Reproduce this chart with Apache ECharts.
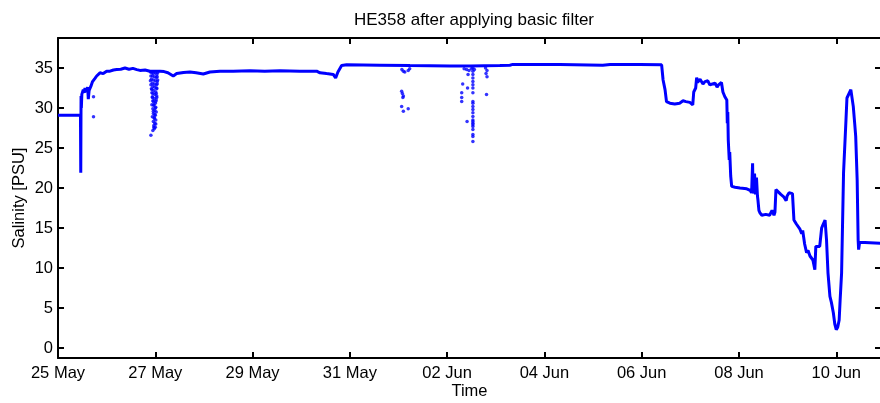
<!DOCTYPE html>
<html>
<head>
<meta charset="utf-8">
<script src="https://cdn.jsdelivr.net/npm/echarts@6/dist/echarts.min.js"></script>
<style>
html,body{margin:0;padding:0;background:#fff;}
#chart{width:880px;height:403px;}
</style>
</head>
<body>
<div id="chart"></div>
<script>
// Time in days since 25 May 00:00
const tickDays = [0, 2, 4, 6, 8, 10, 12, 14, 16];
const tickLabels = ['25 May', '27 May', '29 May', '31 May', '02 Jun', '04 Jun', '06 Jun', '08 Jun', '10 Jun'];
const yTicks = [0, 5, 10, 15, 20, 25, 30, 35];

const dayOffsets = [
  0, 0.462, 0.468, 0.474, 0.48, 0.49, 0.52, 0.54, 0.555, 0.57, 0.59, 0.61, 0.623, 0.64, 0.658, 0.675, 0.693,
  0.71, 0.726, 0.76, 0.795, 0.83, 0.863, 0.93,
  1.0, 1.069, 1.14, 1.207, 1.29, 1.377, 1.46, 1.54, 1.62, 1.685, 1.79, 1.89, 2.097, 2.18, 2.26, 2.37, 2.44,
  2.58, 2.713, 2.84, 2.987, 3.124, 3.33, 3.6, 3.947, 4.25, 4.563, 4.974, 5.318, 5.386, 5.52, 5.659, 5.708,
  5.755, 5.831, 5.934, 6.619, 7.235, 8.057, 8.469, 9.085, 9.106, 9.29, 9.35, 10.32, 11.2, 11.35, 11.96,
  12.41, 12.44, 12.48, 12.51, 12.58, 12.68, 12.78, 12.85, 12.91, 12.99, 13.05, 13.06, 13.07, 13.11, 13.13,
  13.15, 13.18, 13.2, 13.23, 13.26, 13.3, 13.36, 13.4, 13.44, 13.51, 13.55, 13.58, 13.61, 13.64, 13.67,
  13.71, 13.75, 13.76, 13.77, 13.78, 13.8, 13.81, 13.83, 13.85, 13.92, 14.02, 14.16, 14.23, 14.26, 14.28,
  14.29, 14.32, 14.34, 14.36, 14.38, 14.39, 14.41, 14.43, 14.47, 14.55, 14.63, 14.68, 14.72, 14.74, 14.76,
  14.8, 14.86, 14.92, 14.97, 14.99, 15.03, 15.07, 15.1, 15.13, 15.18, 15.25, 15.29, 15.31, 15.35, 15.39,
  15.42, 15.46, 15.52, 15.56, 15.58, 15.62, 15.66, 15.7, 15.72, 15.77, 15.8, 15.83, 15.87, 15.9, 15.94,
  15.97, 16.0, 16.03, 16.06, 16.08, 16.11, 16.15, 16.2, 16.22, 16.26, 16.3, 16.35, 16.38, 16.4, 16.43,
  16.45, 16.46, 16.48, 16.59, 16.92
];
const salinity = [
  29.1, 29.1, 21.9, 31.5, 30.0, 31.7, 32.3, 31.9, 32.5, 32.0, 31.8, 32.6, 31.1, 32.2, 32.4, 32.7, 32.9,
  33.3, 33.5, 33.7, 34.0, 34.2, 34.4, 34.3,
  34.6, 34.6, 34.75, 34.8, 34.85, 35.0, 34.85, 34.95, 34.8, 34.7, 34.75, 34.6, 34.6, 34.55, 34.4, 34.0, 34.3,
  34.45, 34.5, 34.4, 34.25, 34.5, 34.6, 34.6, 34.65, 34.6, 34.65, 34.6, 34.6, 34.4, 34.3, 34.2, 33.75,
  34.5, 35.3, 35.4, 35.35, 35.3, 35.25, 35.25, 35.3, 35.45, 35.35, 35.45, 35.45, 35.35, 35.45, 35.45,
  35.4, 33.5, 32.3, 30.8, 30.6, 30.5, 30.6, 30.9, 30.8, 30.7, 30.4, 30.2, 32.0, 32.5, 33.8,
  33.2, 33.3, 33.6, 33.4, 33.0, 33.3, 33.4, 32.9, 32.7, 33.1, 32.6, 32.9, 33.0, 33.2, 32.0,
  31.4, 31.0, 28.1, 29.5, 26.0, 23.5, 24.5, 21.5, 20.2, 20.1, 20.0, 19.9, 19.7, 19.4, 23.1,
  19.3, 21.8, 19.2, 21.3, 19.0, 18.5, 17.2, 16.9, 16.6, 16.7, 16.6, 17.2, 16.6, 17.0, 19.8,
  19.8, 19.2, 18.9, 18.4, 19.0, 19.4, 19.6, 19.3, 16.0, 15.5, 14.9, 14.3, 14.7, 13.0, 11.9,
  12.2, 11.5, 11.0, 9.8, 12.7, 12.8, 12.7, 15.0, 15.3, 16.0, 13.5, 9.4, 6.45, 5.7, 4.4,
  3.0, 2.3, 2.6, 3.5, 6.0, 9.4, 21.9, 28.5, 31.25, 31.5, 32.3, 30.2, 28.0, 26.45, 21.0,
  13.5, 12.3, 13.2, 13.2, 13.1
];

// Isolated points left after filtering
const outlierDays = [
  0.73, 0.73,
  1.93, 1.96, 2.0, 2.03, 1.94, 1.98, 2.02, 1.92, 1.96, 2.0, 2.04, 1.94, 1.98, 2.02, 1.95, 1.99,
  2.03, 1.93, 1.97, 2.01, 1.95, 1.99, 2.03, 1.94, 1.98, 2.02, 1.96, 2.0, 1.93, 1.97, 2.01, 1.95,
  1.99, 2.02, 1.96, 2.0, 1.94, 1.98, 2.01, 1.96, 1.99, 1.97, 2.0, 1.98, 1.95, 1.91,
  1.9, 2.05, 1.91, 2.04, 1.9, 2.05, 1.91, 2.04, 1.92, 2.03, 1.93, 2.02, 1.94, 2.03, 1.95, 2.01,
  1.97, 2.0, 1.96, 1.99, 1.98, 2.01, 1.97,
  7.07, 7.1, 7.13, 7.2, 7.23, 7.065, 7.08, 7.1, 7.09, 7.065, 7.1, 7.2,
  8.53, 8.53, 8.53, 8.53, 8.53, 8.53, 8.53, 8.53, 8.53, 8.53, 8.53, 8.53, 8.53, 8.53, 8.53,
  8.53, 8.53, 8.53, 8.53, 8.53, 8.53, 8.53, 8.53,
  8.43, 8.32, 8.42, 8.3, 8.3, 8.3, 8.41, 8.81, 8.79, 8.82, 8.8, 8.82, 8.35, 8.4, 8.45, 8.5, 8.56
];
const outlierVals = [
  31.4, 28.9,
  34.4, 34.3, 34.4, 34.2, 34.0, 33.9, 33.8, 33.6, 33.5, 33.4, 33.3, 33.1, 33.0, 32.9, 32.7, 32.6,
  32.4, 32.3, 32.2, 32.0, 31.8, 31.7, 31.5, 31.3, 31.2, 31.0, 30.8, 30.6, 30.4, 30.3, 30.1, 29.9,
  29.7, 29.5, 29.3, 29.1, 28.9, 28.7, 28.5, 28.3, 28.1, 27.8, 27.6, 27.4, 27.2, 26.6,
  34.5, 34.4, 34.0, 33.9, 33.4, 33.5, 32.9, 33.0, 32.4, 32.5, 31.9, 31.8, 31.4, 31.3, 30.9, 30.8,
  30.4, 30.0, 29.6, 29.2, 28.8, 28.0, 27.6,
  34.8, 34.6, 34.5, 34.7, 34.9, 32.1, 31.8, 31.5, 31.3, 30.2, 29.6, 29.9,
  35.0, 34.6, 34.2, 33.75, 33.3, 32.9, 32.5, 31.9, 30.8, 30.6, 30.2, 29.8, 29.4, 28.95, 28.5,
  28.3, 28.1, 27.9, 27.7, 27.3, 26.7, 26.45, 25.8,
  34.2, 33.0, 32.5, 31.9, 31.3, 30.8, 28.3, 31.7, 35.0, 34.7, 34.3, 33.9, 34.9, 34.8, 34.7, 34.9, 34.8
];

const lineData = dayOffsets.map((d, i) => [d, salinity[i]]);
const dotData = outlierDays.map((d, i) => [d, outlierVals[i]]);

const FONT = '"Liberation Sans", Arial, sans-serif';
const axisLine = { show: true, onZero: false, lineStyle: { color: '#000', width: 2 } };
const tick = { show: true, inside: true, length: 6, lineStyle: { color: '#000', width: 2 } };

const chart = echarts.init(document.getElementById('chart'), null, { renderer: 'canvas' });
chart.setOption({
  animation: false,
  backgroundColor: '#fff',
  title: {
    text: 'HE358 after applying basic filter',
    left: 469, top: 7, textAlign: 'center',
    textStyle: { fontFamily: FONT, fontSize: 17, fontWeight: 'normal', color: '#000' }
  },
  grid: { left: 58, right: -1, top: 38, height: 320, containLabel: false, outerBoundsMode: 'none' },
  xAxis: [
    {
      type: 'value', min: 0, max: 16.92, position: 'bottom',
      name: 'Time', nameLocation: 'middle', nameGap: 25, nameMoveOverlap: false,
      nameTextStyle: { fontFamily: FONT, fontSize: 16.5, color: '#000' },
      axisLine: axisLine,
      axisTick: Object.assign({}, tick, { customValues: tickDays }),
      axisLabel: {
        customValues: tickDays, margin: 7,
        fontFamily: FONT, fontSize: 16.5, color: '#000',
        formatter: v => tickLabels[tickDays.indexOf(v)]
      },
      splitLine: { show: false }
    },
    {
      type: 'value', min: 0, max: 16.92, position: 'top',
      axisLine: axisLine,
      axisTick: Object.assign({}, tick, { customValues: tickDays }),
      axisLabel: { show: false },
      splitLine: { show: false }
    }
  ],
  yAxis: [
    {
      type: 'value', min: -1.25, max: 38.75, position: 'left',
      name: 'Salinity [PSU]', nameLocation: 'middle', nameGap: 30, nameRotate: 90,
      nameMoveOverlap: false,
      nameTextStyle: { fontFamily: FONT, fontSize: 16.5, color: '#000' },
      axisLine: axisLine,
      axisTick: Object.assign({}, tick, { customValues: yTicks }),
      axisLabel: { customValues: yTicks, margin: 5, fontFamily: FONT, fontSize: 16.5, color: '#000' },
      splitLine: { show: false }
    },
    {
      type: 'value', min: -1.25, max: 38.75, position: 'right',
      axisLine: axisLine,
      axisTick: Object.assign({}, tick, { customValues: yTicks }),
      axisLabel: { show: false },
      splitLine: { show: false }
    }
  ],
  series: [
    {
      type: 'line', data: lineData, xAxisIndex: 0, yAxisIndex: 0,
      showSymbol: false, symbol: 'none',
      lineStyle: { color: '#0000ff', width: 3 },
      itemStyle: { color: '#0000ff' }
    },
    {
      type: 'scatter', data: dotData, xAxisIndex: 0, yAxisIndex: 0,
      symbol: 'circle', symbolSize: 3.5,
      itemStyle: { color: '#0000ff' }
    }
  ]
});
</script>
</body>
</html>
